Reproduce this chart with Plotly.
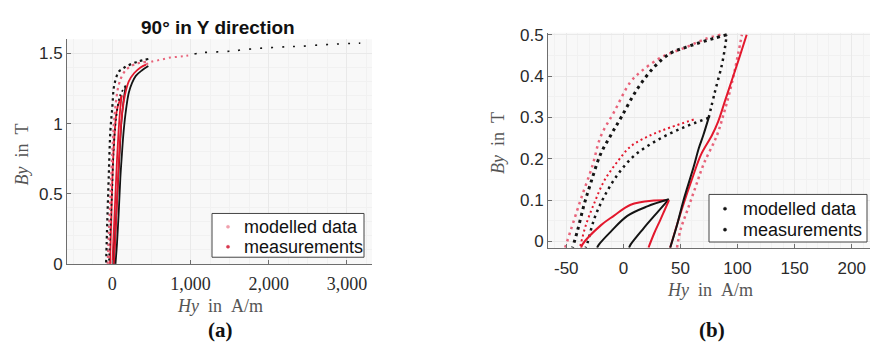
import plotly.graph_objects as go

# ---------------- (a) data ----------------
a_black_asc_H = [40, 60, 80, 102, 122, 145, 175, 210, 252, 300, 380, 460]
a_black_asc_B = [0, 0.15, 0.35, 0.61, 0.78, 0.95, 1.1, 1.22, 1.29, 1.34, 1.38, 1.41]
a_black_desc_H = [460, 316, 188, 130, 81, 40, 17, 0, -25, -47, -65, -80]
a_black_desc_B = [1.46, 1.44, 1.41, 1.39, 1.37, 1.31, 1.25, 1.12, 0.95, 0.61, 0.3, 0]
a_black_in_asc_H = [15, 35, 55, 75, 95, 115, 140, 170]
a_black_in_asc_B = [0, 0.2, 0.4, 0.6, 0.8, 1.0, 1.15, 1.27]
a_black_in_desc_H = [170, 100, 50, 15, -5, -25, -45]
a_black_in_desc_B = [1.27, 1.2, 1.05, 0.8, 0.5, 0.25, 0]
a_black_tail_H = [1050, 1125, 1250, 1450, 1545, 1650, 1850, 2050, 2250, 2400, 2650, 2850, 3050, 3170]
a_black_tail_B = [1.495, 1.505, 1.508, 1.514, 1.516, 1.525, 1.535, 1.542, 1.548, 1.55, 1.56, 1.566, 1.571, 1.573]
a_red_asc_H = [20, 40, 60, 80, 100, 125, 160, 210, 280, 360, 430]
a_red_asc_B = [0, 0.2, 0.45, 0.7, 0.9, 1.07, 1.2, 1.3, 1.36, 1.4, 1.42]
a_red_desc_H = [430, 330, 240, 170, 115, 75, 45, 20, 0, -20, -40, -60]
a_red_desc_B = [1.44, 1.43, 1.41, 1.38, 1.33, 1.26, 1.15, 1.0, 0.8, 0.55, 0.28, 0]
a_red_in_asc_H = [0, 20, 40, 60, 80, 100, 120]
a_red_in_asc_B = [0, 0.25, 0.5, 0.75, 0.95, 1.1, 1.2]
a_red_in_desc_H = [120, 60, 25, 0, -15, -30]
a_red_in_desc_B = [1.2, 1.1, 0.9, 0.6, 0.3, 0]
a_red_tail_H = [430, 500, 580, 660, 740, 820, 900, 970]
a_red_tail_B = [1.42, 1.44, 1.45, 1.46, 1.47, 1.475, 1.48, 1.485]

a_xticks = [0, 1000, 2000, 3000]
a_yticks = [0, 0.5, 1, 1.5]
a_ytick_text = ["0", "0.5", "1", "1.5"]

# ---------------- (b) data ----------------
b_m05_desc_H = [90.5, 80, 68, 55, 41, 27, 12, -2, -11, -20, -28.5, -34.4, -40, -44.5]
b_m05_desc_B = [0.5, 0.492, 0.482, 0.47, 0.455, 0.422, 0.368, 0.3, 0.257, 0.211, 0.142, 0.089, 0.028, -0.015]
b_m03_desc_H = [74.7, 52.9, 29.7, 9.3, -5.2, -16.9, -25.6, -31.4, -33]
b_m03_desc_B = [0.299, 0.276, 0.245, 0.207, 0.161, 0.108, 0.054, -0.003, -0.015]
b_m01_desc_H = [39.8, 21, 3.5, -11, -21.3, -23]
b_m01_desc_B = [0.102, 0.085, 0.062, 0.024, -0.007, -0.015]
b_m01_asc_H = [5, 6.4, 17.7, 29.6, 39.8]
b_m01_asc_B = [-0.015, -0.007, 0.032, 0.07, 0.102]
b_m03_asc_H = [41, 47, 52.7, 61.5, 66, 70, 74.7]
b_m03_asc_B = [-0.015, 0.04, 0.1, 0.18, 0.225, 0.257, 0.299]
b_m05_asc_H = [74.7, 80, 86.4, 89.3, 90.5]
b_m05_asc_B = [0.299, 0.36, 0.429, 0.475, 0.5]

b_r05_desc_H = [85, 72, 55, 33, 15, 6, -8, -20, -27, -37, -46, -51]
b_r05_desc_B = [0.5, 0.49, 0.47, 0.445, 0.41, 0.385, 0.314, 0.253, 0.184, 0.104, 0.028, -0.015]
b_r03_desc_H = [61.6, 41.3, 23.8, 6.4, -5.2, -16.9, -25.6, -32.9, -37, -38]
b_r03_desc_B = [0.295, 0.276, 0.257, 0.23, 0.193, 0.146, 0.092, 0.039, -0.003, -0.015]
b_r01_desc_H = [38, 26.7, 6.4, -8.4, -19.8, -35.8, -37]
b_r01_desc_B = [0.1, 0.099, 0.089, 0.062, 0.039, -0.007, -0.015]
b_r01_asc_H = [22, 27, 32, 36, 40]
b_r01_asc_B = [-0.015, 0.02, 0.05, 0.075, 0.1]
b_r_asc1_H = [41, 45.6, 52, 60, 68, 77.6, 83, 89, 95, 101, 108]
b_r_asc1_B = [-0.015, 0.028, 0.085, 0.15, 0.21, 0.257, 0.29, 0.34, 0.39, 0.44, 0.5]
b_r_asc2_H = [47, 50, 56, 63, 70, 82, 88, 93, 98, 103.8]
b_r_asc2_B = [-0.015, 0.028, 0.075, 0.13, 0.185, 0.257, 0.31, 0.36, 0.42, 0.5]

b_xticks = [-50, 0, 50, 100, 150, 200]
b_xtick_text = ["-50", "0", "50", "100", "150", "200"]
b_yticks = [0, 0.1, 0.2, 0.3, 0.4, 0.5]
b_ytick_text = ["0", "0.1", "0.2", "0.3", "0.4", "0.5"]

legend_labels = ["modelled data", "measurements"]

BLACK = "#141414"
RED = "#e3182d"
PINK = "#e8637a"
DOT = "2.5px,3.5px"
SPARSE = "2px,9px"

fig = go.Figure()


def add(xs, ys, color, width, dash, xa, ya):
    fig.add_trace(go.Scatter(x=xs, y=ys, mode="lines", xaxis=xa, yaxis=ya,
                             line=dict(color=color, width=width, dash=dash,
                                       shape="spline", smoothing=1.0),
                             showlegend=False, hoverinfo="skip"))

# (a)
add(a_red_tail_H, a_red_tail_B, PINK, 2, "2px,4px", "x", "y")
add(a_black_tail_H, a_black_tail_B, BLACK, 1.6, SPARSE, "x", "y")
add(a_red_in_asc_H, a_red_in_asc_B, RED, 1.8, "solid", "x", "y")
add(a_red_in_desc_H, a_red_in_desc_B, RED, 1.8, "solid", "x", "y")
add(a_black_in_asc_H, a_black_in_asc_B, BLACK, 1.6, "solid", "x", "y")
add(a_black_in_desc_H, a_black_in_desc_B, BLACK, 1.8, "2px,3px", "x", "y")
add(a_red_asc_H, a_red_asc_B, RED, 1.8, "solid", "x", "y")
add(a_red_desc_H, a_red_desc_B, PINK, 2.2, DOT, "x", "y")
add(a_black_asc_H, a_black_asc_B, BLACK, 1.8, "solid", "x", "y")
add(a_black_desc_H, a_black_desc_B, BLACK, 2.2, DOT, "x", "y")

# (b)
add(b_r05_desc_H, b_r05_desc_B, PINK, 2.5, "2.5px,4px", "x2", "y2")
add(b_m05_desc_H, b_m05_desc_B, BLACK, 3, "3px,4px", "x2", "y2")
add(b_r03_desc_H, b_r03_desc_B, RED, 2, "2px,3px", "x2", "y2")
add(b_m03_desc_H, b_m03_desc_B, BLACK, 2.5, "2.5px,4px", "x2", "y2")
add(b_r01_desc_H, b_r01_desc_B, RED, 2, "solid", "x2", "y2")
add(b_m01_desc_H, b_m01_desc_B, BLACK, 2, "solid", "x2", "y2")
add(b_m01_asc_H, b_m01_asc_B, BLACK, 2, "solid", "x2", "y2")
add(b_r01_asc_H, b_r01_asc_B, RED, 2, "solid", "x2", "y2")
add(b_r_asc2_H, b_r_asc2_B, PINK, 2.5, "2.5px,3.5px", "x2", "y2")
add(b_r_asc1_H, b_r_asc1_B, RED, 2, "solid", "x2", "y2")
add(b_m03_asc_H, b_m03_asc_B, BLACK, 2, "solid", "x2", "y2")
add(b_m05_asc_H, b_m05_asc_B, BLACK, 2.5, "2.5px,4px", "x2", "y2")

W, H = 870, 350
AX = "#6e6e6e"
TICK = "#2a2a2a"
GRID = "#e9e9e9"
MGRID = "#f1f1f1"
SANS = "Liberation Sans, Arial, sans-serif"
SERIF = "Liberation Serif, Times New Roman, serif"


def px_x(p):
    return p / W


def px_y(p):
    return 1 - p / H


common = dict(showline=True, linecolor=AX, linewidth=1, ticks="inside", ticklen=4,
              tickcolor=AX, showgrid=True, gridcolor=GRID, gridwidth=1, zeroline=False,
              mirror=False)

fig.update_layout(
    width=W, height=H, autosize=False, showlegend=False,
    margin=dict(l=0, r=0, t=0, b=0),
    paper_bgcolor="white", plot_bgcolor="#f8f8f8",
    xaxis=dict(domain=[px_x(67), px_x(372)], range=[-580, 3320], anchor="y",
               tickvals=a_xticks, tickformat=",", ticklabelstandoff=4,
               tickfont=dict(family=SERIF, size=18, color=TICK),
               minor=dict(dtick=250, showgrid=True, gridcolor=MGRID), **common),
    yaxis=dict(domain=[px_y(270), px_y(34)], range=[0, 1.6], anchor="x",
               tickvals=a_yticks, ticktext=a_ytick_text,
               tickfont=dict(family=SANS, size=17, color=TICK),
               minor=dict(dtick=0.1, showgrid=True, gridcolor=MGRID), **common),
    xaxis2=dict(domain=[px_x(548), 1.0], range=[-66, 216], anchor="y2",
                tickvals=b_xticks, ticktext=b_xtick_text, ticklabelstandoff=5,
                tickfont=dict(family=SANS, size=17, color=TICK),
                minor=dict(dtick=10, showgrid=True, gridcolor=MGRID), **common),
    yaxis2=dict(domain=[px_y(253), px_y(27)], range=[-0.015, 0.505], anchor="x2",
                tickvals=b_yticks, ticktext=b_ytick_text,
                tickfont=dict(family=SANS, size=17, color=TICK),
                minor=dict(dtick=0.05, showgrid=True, gridcolor=MGRID), **common),
)

shapes = []
ann = [
    dict(text="<b>90° in Y direction</b>", x=px_x(218), y=px_y(22),
         font=dict(family=SANS, size=19, color="#111")),
    dict(text="<i>By</i>&nbsp;&nbsp;in&nbsp;&nbsp;T", x=px_x(22), y=px_y(155), textangle=-90,
         font=dict(family=SERIF, size=18, color="#555")),
    dict(text="<i>Hy</i>&nbsp;&nbsp;in&nbsp;&nbsp;A/m", x=px_x(220), y=px_y(314),
         font=dict(family=SERIF, size=18, color="#555")),
    dict(text="<b>(a)</b>", x=px_x(220), y=px_y(339),
         font=dict(family=SERIF, size=21, color="#111")),
    dict(text="<i>By</i>&nbsp;&nbsp;in&nbsp;&nbsp;T", x=px_x(498), y=px_y(143), textangle=-90,
         font=dict(family=SERIF, size=18, color="#555")),
    dict(text="<i>Hy</i>&nbsp;&nbsp;in&nbsp;&nbsp;A/m", x=px_x(710), y=px_y(297),
         font=dict(family=SERIF, size=18, color="#555")),
    dict(text="<b>(b)</b>", x=px_x(712), y=px_y(340),
         font=dict(family=SERIF, size=21, color="#111")),
]
for a in ann:
    a.update(xanchor="center", yanchor="middle")


# hand-drawn legends (box, dot, label) in pixel positions
def legend_box(x0, y0, x1, y1, dot_x, text_x, rows, colors):
    shapes.append(dict(type="rect", xref="paper", yref="paper",
                       x0=px_x(x0), x1=px_x(x1), y0=px_y(y1), y1=px_y(y0),
                       line=dict(color="#444", width=1), fillcolor="white", layer="above"))
    for lab, ry, col in zip(legend_labels, rows, colors):
        shapes.append(dict(type="circle", xref="paper", yref="paper",
                           x0=px_x(dot_x - 1.6), x1=px_x(dot_x + 1.6),
                           y0=px_y(ry + 1.6), y1=px_y(ry - 1.6),
                           line=dict(color=col, width=0.5), fillcolor=col, layer="above"))
        ann.append(dict(text=lab, x=px_x(text_x), y=px_y(ry), xanchor="left", yanchor="middle",
                        font=dict(family=SANS, size=18, color="#111")))


legend_box(212, 217, 364, 263, 228, 242, [231, 252], ["#f0a0ad", "#d8384f"])
legend_box(709, 197, 867, 247, 725, 741, [212, 234], [BLACK, BLACK])

for a in ann:
    a.update(xref="paper", yref="paper", showarrow=False)
fig.update_layout(annotations=ann, shapes=shapes)

fig.write_html("out.html")
